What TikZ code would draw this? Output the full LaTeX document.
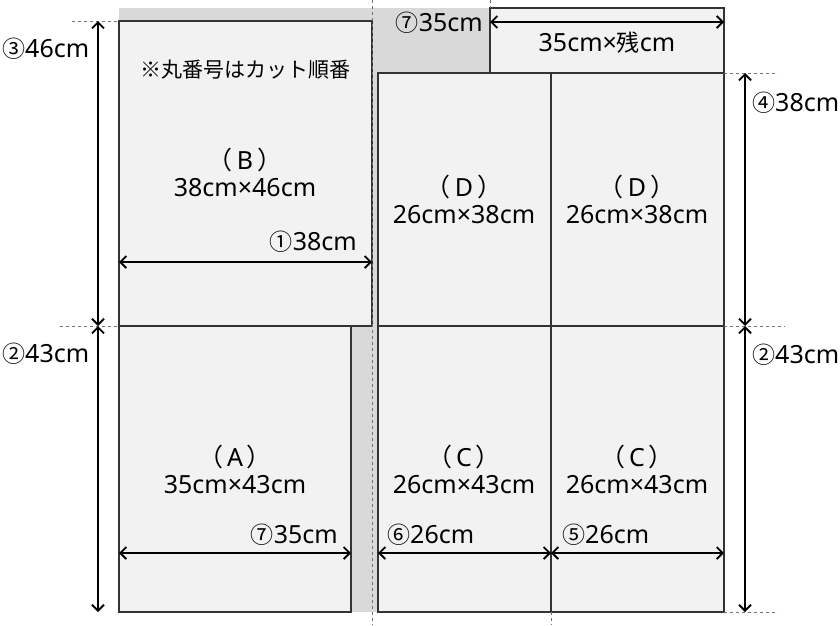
\documentclass[tikz,border=0pt]{standalone}
\usepackage{fontspec}
\usetikzlibrary{arrows.meta}
\setmainfont{Noto Sans}
\newfontfamily\cjk{Noto Sans CJK JP}
\newcommand\maru[1]{{\cjk\fontsize{23}{23}\selectfont #1}}
\newcommand\piecename[1]{{\cjk （}\kern4pt#1\kern4pt{\cjk ）}}
\begin{document}
\begin{tikzpicture}[x=1pt,y=-1pt,
    piece/.style={draw=black!80,fill=black!5,line width=1.4pt},
    waste/.style={fill=black!15},
    dim/.style={line width=1.8pt,{Straight Barb[length=6pt,width=12pt]}-{Straight Barb[length=6pt,width=12pt]}},
    guide/.style={black!55,dashed,line width=0.8pt},
    lbl/.style={inner sep=0pt,font=\fontsize{25}{30}\selectfont}]
  \useasboundingbox (0,0) rectangle (840,625);
  % cloth and pieces
  \fill[waste] (119,8) rectangle (724,612);
  \draw[piece] (119,21) rectangle (372,326);
  \draw[piece] (119,326) rectangle (351,612);
  \draw[piece] (378,73) rectangle (551,326);
  \draw[piece] (551,73) rectangle (724,326);
  \draw[piece] (378,326) rectangle (551,612);
  \draw[piece] (551,326) rectangle (724,612);
  \draw[piece] (490,8) rectangle (724,73);
  % cut lines
  \draw[guide] (372,0) -- (372,625);
  \draw[guide] (490,0) -- (490,8);
  \draw[guide] (551,612) -- (551,625);
  \draw[guide] (72,21) -- (119,21);
  \draw[guide] (60,326) -- (119,326);
  \draw[guide] (724,73) -- (778,73);
  \draw[guide] (724,326) -- (785,326);
  \draw[guide] (724,612) -- (778,612);
  % sizes
  \draw[dim] (98,21) -- (98,326);
  \draw[dim] (98,326) -- (98,612);
  \draw[dim] (745,73) -- (745,326);
  \draw[dim] (745,326) -- (745,612);
  \draw[dim] (119,262) -- (372,262);
  \draw[dim] (119,553) -- (351,553);
  \draw[dim] (378,553) -- (551,553);
  \draw[dim] (551,553) -- (724,553);
  \draw[dim] (490,22) -- (724,22);
  % texts
  \node[lbl] (note) at (245,70) {\cjk\fontsize{21}{24}\selectfont ※丸番号はカット順番};
  \node[lbl] (nameB) at (245,160) {\piecename{B}};
  \node[lbl] (sizeB) at (245,188) {38cm×46cm};
  \node[lbl] (nameD1) at (464,187) {\piecename{D}};
  \node[lbl] (sizeD1) at (464,215) {26cm×38cm};
  \node[lbl] (nameD2) at (637,187) {\piecename{D}};
  \node[lbl] (sizeD2) at (637,215) {26cm×38cm};
  \node[lbl] (nameA) at (235,457) {\piecename{A}};
  \node[lbl] (sizeA) at (235,485) {35cm×43cm};
  \node[lbl] (nameC1) at (464,457) {\piecename{C}};
  \node[lbl] (sizeC1) at (464,485) {26cm×43cm};
  \node[lbl] (nameC2) at (637,457) {\piecename{C}};
  \node[lbl] (sizeC2) at (637,485) {26cm×43cm};
  \node[lbl] (rest) at (607,43) {35cm×{\cjk\fontsize{23}{24}\selectfont 残}cm};
  % cut numbers
  \node[lbl,anchor=west] (cut3) at (2,49) {\maru{③}46cm};
  \node[lbl,anchor=west] (cut2l) at (2,354) {\maru{②}43cm};
  \node[lbl,anchor=west] (cut4) at (752,103) {\maru{④}38cm};
  \node[lbl,anchor=west] (cut2r) at (752,355) {\maru{②}43cm};
  \node[lbl,anchor=east] (cut1) at (357,242) {\maru{①}38cm};
  \node[lbl,anchor=east] (cut7b) at (338,535) {\maru{⑦}35cm};
  \node[lbl,anchor=west] (cut6) at (387,535) {\maru{⑥}26cm};
  \node[lbl,anchor=west] (cut5) at (562,535) {\maru{⑤}26cm};
  \node[lbl,anchor=east] (cut7t) at (483,23) {\maru{⑦}35cm};
\end{tikzpicture}
\end{document}
